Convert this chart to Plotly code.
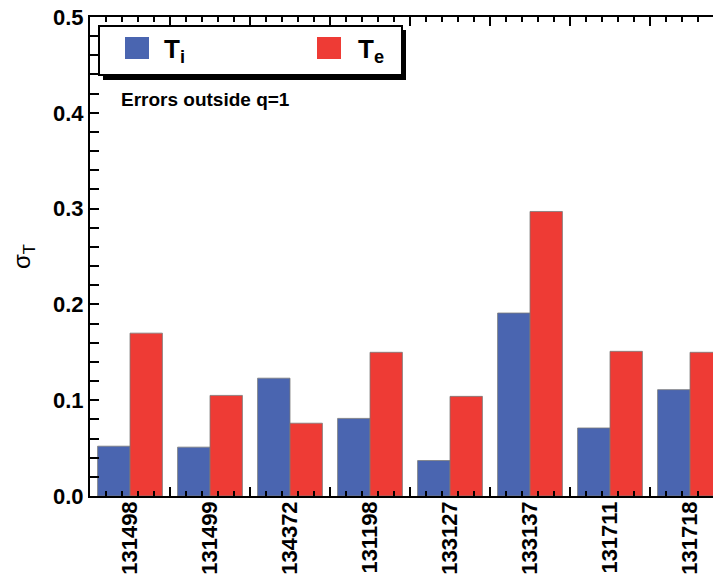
import plotly.graph_objects as go

shots = ["131498", "131499", "134372", "131198", "133127", "133137", "131711", "131718"]
sigma_ti = [0.052, 0.051, 0.123, 0.081, 0.037, 0.191, 0.071, 0.111]
sigma_te = [0.170, 0.105, 0.076, 0.150, 0.104, 0.297, 0.151, 0.150]
y_ticks = [0.0, 0.1, 0.2, 0.3, 0.4, 0.5]

# page body has an 8px margin; window coordinates of the plot area
OFF = 8
L, R, T, B = 90, 728, 17, 496
W, H = 730, 582


def px(x):
    return (x - L) / (R - L)


def py(y):
    return (B - y) / (B - T)


FONT = "Liberation Sans, Arial, Helvetica, sans-serif"
BLUE = "#4a65b0"
RED = "#ee3b35"
pos = list(range(len(shots)))
xrange_ = [-0.5, (R - (L + 40)) / 80]

fig = go.Figure()
fig.add_trace(go.Bar(x=pos, y=sigma_ti, name="T<sub>i</sub>", marker=dict(color=BLUE, line=dict(color="#7a7a7a", width=0.8))))
fig.add_trace(go.Bar(x=pos, y=sigma_te, name="T<sub>e</sub>", marker=dict(color=RED, line=dict(color="#7a7a7a", width=0.8))))
fig.add_trace(go.Scatter(x=[None], y=[None], xaxis="x2", showlegend=False, hoverinfo="skip"))

fig.update_layout(
    width=W, height=H,
    margin=dict(l=L - OFF, r=W - (R - OFF), t=T - OFF, b=H - (B - OFF), pad=0),
    paper_bgcolor="white", plot_bgcolor="white",
    showlegend=False,
    barmode="group", bargap=0.19, bargroupgap=0,
    font=dict(family=FONT, color="black"),
    xaxis=dict(
        range=xrange_, tickmode="array", tickvals=pos, ticktext=shots, automargin=False,
        tickangle=-90, ticks="", showline=False, showgrid=False, zeroline=False,
        ticklabeloverflow="allow",
        tickfont=dict(family=FONT, size=22, weight="bold"),
    ),
    xaxis2=dict(
        overlaying="x", side="bottom", range=xrange_, showticklabels=False, automargin=False,
        showgrid=False, zeroline=False, showline=True, linecolor="black", linewidth=2,
        mirror="allticks", ticks="inside", tick0=-0.5, dtick=1, ticklen=9, tickwidth=2,
        tickcolor="black",
        minor=dict(ticks="inside", tick0=-0.5, dtick=0.2, ticklen=5, tickwidth=1.5, tickcolor="black"),
    ),
    yaxis=dict(
        range=[0, 0.5], tickmode="array", tickvals=y_ticks, automargin=False,
        ticktext=[f"{v:.1f}" for v in y_ticks], ticklabeloverflow="allow",
        ticks="inside", ticklen=9, tickwidth=2, tickcolor="black", mirror="allticks",
        showline=True, linecolor="black", linewidth=2, showgrid=False, zeroline=False,
        tickfont=dict(family=FONT, size=22, weight="bold"),
        minor=dict(ticks="inside", dtick=0.02, tick0=0, ticklen=5, tickwidth=1.5, tickcolor="black"),
        title=dict(text="σ<sub>T</sub>", font=dict(family=FONT, size=24), standoff=18),
    ),
)

# legend drawn as a framed box with shadow
shapes = [
    dict(type="rect", xref="paper", yref="paper", x0=px(103), x1=px(406), y0=py(80), y1=py(30),
         fillcolor="black", line=dict(width=0), layer="above"),
    dict(type="rect", xref="paper", yref="paper", x0=px(99), x1=px(402), y0=py(75), y1=py(26),
         fillcolor="white", line=dict(color="black", width=2), layer="above"),
    dict(type="rect", xref="paper", yref="paper", x0=px(125), x1=px(149), y0=py(59), y1=py(37),
         fillcolor=BLUE, line=dict(width=0), layer="above"),
    dict(type="rect", xref="paper", yref="paper", x0=px(317), x1=px(341), y0=py(59), y1=py(37),
         fillcolor=RED, line=dict(width=0), layer="above"),
]
fig.update_layout(shapes=shapes)

fig.add_annotation(xref="paper", yref="paper", x=px(162), y=py(50), xanchor="left", yanchor="middle",
                   text="T<sub>i</sub>", showarrow=False, font=dict(family=FONT, size=26, weight="bold"))
fig.add_annotation(xref="paper", yref="paper", x=px(356), y=py(50), xanchor="left", yanchor="middle",
                   text="T<sub>e</sub>", showarrow=False, font=dict(family=FONT, size=26, weight="bold"))
fig.add_annotation(xref="paper", yref="paper", x=px(119), y=py(100), xanchor="left", yanchor="middle",
                   text="Errors outside q=1", showarrow=False, font=dict(family=FONT, size=19, weight="bold"))

fig.write_html("out.html")
